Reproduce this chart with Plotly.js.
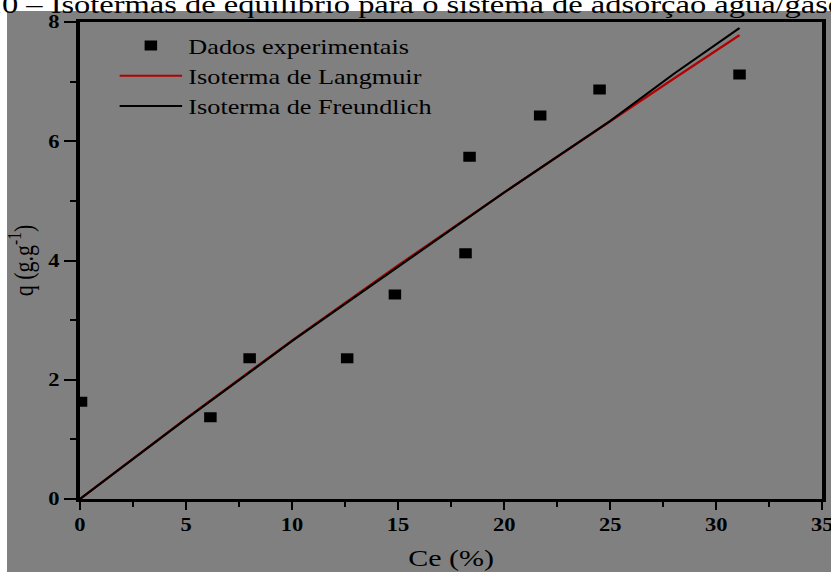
<!DOCTYPE html>
<html>
<head>
<meta charset="utf-8">
<script src="https://cdn.plot.ly/plotly-3.0.1.min.js"></script>
<style>
  html, body { margin: 0; padding: 0; background: #ffffff; overflow: hidden; }
  #chart { width: 665px; height: 572px; transform: scaleX(1.2496); transform-origin: 0 0; }
</style>
</head>
<body>
<div id="chart"></div>
<script>
// Experimental equilibrium data: Ce (%) vs q (g.g-1)
const ceData = [0.05, 6.15, 8.0, 12.6, 14.85, 18.18, 18.37, 21.7, 24.5, 31.1];
const qData  = [1.63, 1.37, 2.36, 2.36, 3.43, 4.12, 5.74, 6.43, 6.87, 7.12];

// Fitted isotherm curves
const ceLangmuir = [0, 5, 10, 15, 20, 25, 28, 31.1];
const qLangmuir  = [0, 1.35, 2.66, 3.92, 5.14, 6.34, 7.05, 7.78];

const ceFreundlich = [0, 5, 10, 15, 20, 25, 28, 31.1];
const qFreundlich  = [0, 1.34, 2.65, 3.90, 5.14, 6.34, 7.13, 7.90];

const seriesNames = ['Dados experimentais', 'Isoterma de Langmuir', 'Isoterma de Freundlich'];
const xTitle = 'Ce (%)';
const yTitle = 'q (g.g<sup>-1</sup>)';
const figTitle = 'Figura 10 – Isotermas de equilíbrio para o sistema de adsorção água/gasolina';

const serif = 'Liberation Serif, Times New Roman, serif';

const traces = [
  {
    x: ceData, y: qData, name: seriesNames[0],
    type: 'scatter', mode: 'markers',
    marker: { symbol: 'square', size: 10, color: '#000000' }
  },
  {
    x: ceLangmuir, y: qLangmuir, name: seriesNames[1],
    type: 'scatter', mode: 'lines',
    line: { color: '#b40000', width: 2 }
  },
  {
    x: ceFreundlich, y: qFreundlich, name: seriesNames[2],
    type: 'scatter', mode: 'lines',
    line: { color: '#000000', width: 2 }
  }
];

const axisCommon = {
  showgrid: false, zeroline: false,
  showline: true, linecolor: '#000000', linewidth: 2.5, mirror: true,
  ticks: 'outside', tickcolor: '#000000', tickwidth: 2.2,
  ticklabeloverflow: 'allow',
  tickfont: { family: serif, size: 18, color: '#000000', weight: 'bold' }
};

const layout = {
  width: 665, height: 572,
  margin: { l: 64, r: 7.2, t: 22, b: 73 },
  paper_bgcolor: '#ffffff',
  plot_bgcolor: 'rgba(0,0,0,0)',
  font: { family: serif, color: '#000000' },
  showlegend: true,
  legend: {
    x: 0.045, y: 0.993, xanchor: 'left', yanchor: 'top',
    bgcolor: 'rgba(0,0,0,0)', borderwidth: 0,
    itemwidth: 50,
    font: { family: serif, size: 21, color: '#000000' }
  },
  xaxis: Object.assign({}, axisCommon, {
    range: [0, 35], dtick: 5, tick0: 0, ticklen: 8,
    minor: { dtick: 2.5, ticks: 'outside', ticklen: 5, tickwidth: 2, tickcolor: '#000000' },
    title: { text: xTitle, font: { family: serif, size: 24, color: '#000000' }, standoff: 15 }
  }),
  yaxis: Object.assign({}, axisCommon, {
    range: [0, 8], dtick: 2, tick0: 0, ticklen: 10, ticklabelstandoff: 0,
    minor: { dtick: 1, ticks: 'outside', ticklen: 5, tickwidth: 2, tickcolor: '#000000' },
    title: { text: yTitle, font: { family: serif, size: 22, color: '#000000' }, standoff: 6 }
  }),
  shapes: [
    {
      type: 'rect', layer: 'below', xref: 'paper', yref: 'paper',
      x0: -0.0983, x1: 1.05, y0: -0.2, y1: 1.0231,
      fillcolor: '#808080', line: { width: 0 }
    }
  ],
  annotations: [
    {
      text: figTitle, showarrow: false,
      xref: 'paper', yref: 'paper', x: -0.256, y: 1.002,
      xanchor: 'left', yanchor: 'bottom',
      font: { family: serif, size: 26, color: '#000000' }
    }
  ]
};

Plotly.newPlot('chart', traces, layout, { displayModeBar: false, responsive: false });
</script>
</body>
</html>
